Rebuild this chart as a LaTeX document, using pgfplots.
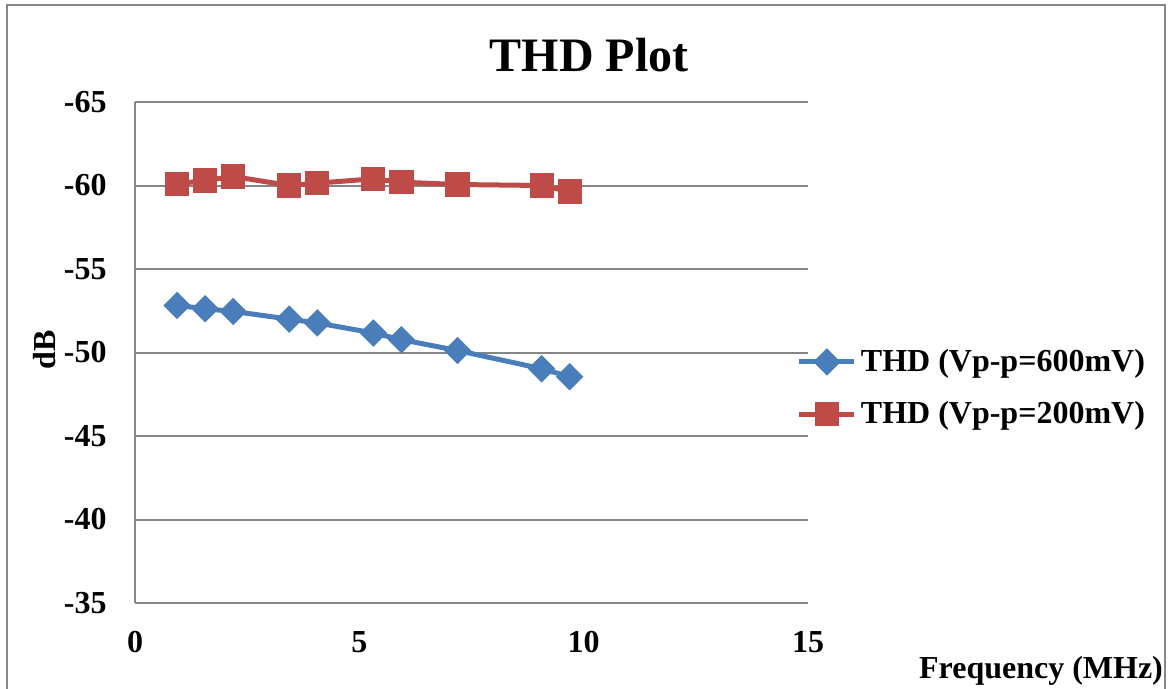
\documentclass[border=0pt]{standalone}
\usepackage{fontspec}
\setmainfont{Liberation Serif}
\usepackage{pgfplots}
\pgfplotsset{compat=1.18}

\definecolor{thdblue}{HTML}{4A7EBB}
\definecolor{thdred}{HTML}{BE4B48}
\definecolor{framegray}{HTML}{868686}

\begin{document}
\begin{tikzpicture}
\clip (0pt,0pt) rectangle (586pt,-344.5pt);
% outer chart frame
\draw[framegray, line width=1pt] (3.5pt,-2.5pt) rectangle (582.5pt,-360pt);

\begin{axis}[
  at={(67.5pt,-301.5pt)}, anchor=south west,
  scale only axis,
  width=336.5pt, height=250.5pt,
  xmin=0, xmax=15, ymin=-65, ymax=-35,
  y dir=reverse,
  xtick={0,5,10,15},
  ytick={-65,-60,-55,-50,-45,-40,-35},
  major tick length=0pt,
  axis lines*=left,
  axis line style={framegray, line width=1pt},
  ymajorgrids,
  grid style={framegray, line width=1pt},
  /pgf/number format/assume math mode=true,
  tick label style={font=\fontsize{16}{19}\selectfont\bfseries},
  yticklabel style={inner sep=0pt, xshift=-14pt},
  xticklabel style={inner sep=0pt, yshift=-14pt},
  legend style={at={(0.983,0.429)}, anchor=west, draw=none, fill=none,
    inner sep=0pt, font=\fontsize{16}{19}\selectfont\bfseries,
    nodes={inner xsep=0pt}, column sep=2pt, row sep=9.5pt},
  legend cell align=left,
  legend image code/.code={\draw[mark repeat=2,mark phase=2,#1]
    plot coordinates {(0pt,0pt) (13.75pt,0pt) (27.5pt,0pt)};},
  clip=false,
]
\addplot[thdblue, line width=2.5pt, mark=square*, mark size=3.6pt,
  mark options={rotate=45, solid, fill=thdblue}] coordinates {
  (0.9375,-52.82) (1.5625,-52.62) (2.1875,-52.46) (3.4375,-52.00)
  (4.0625,-51.77) (5.3125,-51.17) (5.9375,-50.77) (7.1875,-50.12)
  (9.0625,-49.03) (9.6875,-48.55)};
\addlegendentry{THD (Vp-p=600mV)}
\addplot[thdred, line width=2.5pt, mark=square*, mark size=4.8pt,
  mark options={solid, fill=thdred}] coordinates {
  (0.9375,-60.10) (1.5625,-60.30) (2.1875,-60.54) (3.4375,-60.00)
  (4.0625,-60.14) (5.3125,-60.40) (5.9375,-60.20) (7.1875,-60.06)
  (9.0625,-60.00) (9.6875,-59.64)};
\addlegendentry{THD (Vp-p=200mV)}
\end{axis}

% chart title and axis titles
\node[font=\fontsize{24}{28}\selectfont\bfseries] at (294.5pt,-27.5pt) {THD Plot};
\node[font=\fontsize{16}{19}\selectfont\bfseries, rotate=90] at (22.5pt,-175pt) {dB};
\node[font=\fontsize{16}{19}\selectfont\bfseries] at (520.5pt,-335.5pt) {Frequency (MHz)};
\end{tikzpicture}
\end{document}
